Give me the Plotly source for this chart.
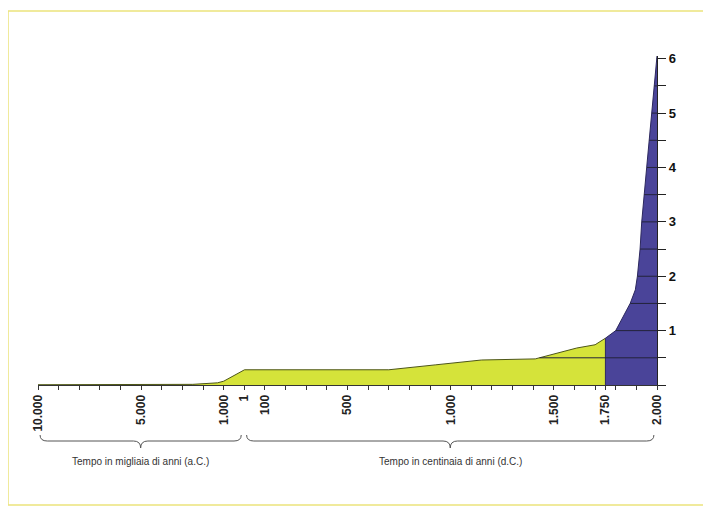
"""World population growth, 10.000 a.C. - 2.000 d.C. (miliardi di persone)."""

import numpy as np
import plotly.graph_objects as go

# Years (negative = a.C.) and population in billions
yellow_years = [-10000, -8000, -6000, -4000, -2500, -1300, -1000, 1,
                700, 925, 1000, 1100, 1150, 1410, 1514, 1611, 1700, 1750]
yellow_pop = [0.005, 0.005, 0.006, 0.008, 0.012, 0.04, 0.07, 0.28,
              0.28, 0.37, 0.40, 0.44, 0.46, 0.48, 0.58, 0.68, 0.74, 0.86]

blue_years = [1750, 1800, 1870, 1895, 1905, 1918, 1926, 1950, 1975, 2000]
blue_pop = [0.86, 1.0, 1.5, 1.75, 2.0, 2.5, 3.0, 4.0, 5.0, 6.05]

tick_years = [-10000, -5000, -1000, 1, 100, 500, 1000, 1500, 1750, 2000]
tick_labels = ["10.000", "5.000", "1.000", "1", "100", "500",
               "1.000", "1.500", "1.750", "2.000"]

y_ticks = [1, 2, 3, 4, 5, 6]
grid_levels = [0.5, 1, 1.5, 2, 2.5, 3, 3.5, 4, 4.5, 5, 5.5, 6]

brace_spans = [(-10000, 0), (1, 2000)]
brace_texts = ["Tempo in migliaia di anni (a.C.)",
               "Tempo in centinaia di anni (d.C.)"]

YELLOW = "#d5e33a"
BLUE = "#4a4499"
FONT = "Liberation Sans, Arial, sans-serif"

# page geometry (px); the page body adds an 8px margin around the figure
OFF = 8
Y_TOP = 6.05
W, H = 711 - OFF, 514 - OFF
ML = 38 - OFF
MR = W - (657 - OFF)
MB = H - (385 - OFF)
MT = round(385 - Y_TOP * 54.3) - OFF
PW, PH = W - ML - MR, H - MT - MB


def pos(year):
    """Broken time scale: thousands of years BC, hundreds of years AD."""
    if year <= 0:
        return (year + 10000) / 1000
    return 10 + year / 100


def pos_list(years):
    return [pos(y) for y in years]


def py(page_px):
    """Page pixel row -> paper y."""
    return (H - MB - (page_px - OFF)) / PH


def px_x(page_px):
    """Page pixel column -> paper x."""
    return (page_px - OFF - ML) / PW


def brace_path(x0, x1, y_end, y_flat, y_tip, d=0.35):
    xm = (x0 + x1) / 2
    return (
        f"M {x0},{y_end} Q {x0},{y_flat} {x0 + d},{y_flat} "
        f"L {xm - d},{y_flat} Q {xm},{y_flat} {xm},{y_tip} "
        f"Q {xm},{y_flat} {xm + d},{y_flat} "
        f"L {x1 - d},{y_flat} Q {x1},{y_flat} {x1},{y_end}"
    )


fig = go.Figure()

fig.add_trace(go.Scatter(
    x=pos_list(yellow_years), y=yellow_pop, mode="lines",
    fill="tozeroy", fillcolor=YELLOW,
    line=dict(color="#4d5618", width=1), hoverinfo="skip",
))
fig.add_trace(go.Scatter(
    x=pos_list([blue_years[0]] + blue_years), y=[0] + blue_pop, mode="lines",
    fill="tozeroy", fillcolor=BLUE,
    line=dict(color="#2c285e", width=1), hoverinfo="skip",
))

# horizontal rules only inside the filled area: from the curve to the axis
curve_years = [y for y in yellow_years if y >= 1410] + blue_years[1:]
curve_pop = yellow_pop[yellow_years.index(1410):] + blue_pop[1:]
curve_pos = pos_list(curve_years)
gx, gy = [], []
for lev in grid_levels:
    x_cross = float(np.interp(lev, curve_pop, curve_pos))
    gx += [x_cross, pos(2000), None]
    gy += [lev, lev, None]
fig.add_trace(go.Scatter(
    x=gx, y=gy, mode="lines",
    line=dict(color="#23233a", width=1), hoverinfo="skip",
))

shapes = [
    dict(type="rect", xref="paper", yref="paper",
         x0=px_x(8), x1=px_x(710), y0=py(505), y1=py(11),
         line=dict(color="#ece47c", width=1.5), layer="below"),
]
annotations = []
for (a, b), txt in zip(brace_spans, brace_texts):
    x0, x1 = pos(a) + 0.1, pos(b) - 0.15
    shapes.append(dict(
        type="path", xref="x", yref="paper",
        path=brace_path(x0, x1, py(435), py(441), py(448)),
        line=dict(color="#555555", width=1),
    ))
    annotations.append(dict(
        x=(x0 + x1) / 2, y=py(461), xref="x", yref="paper",
        xanchor="center", yanchor="middle",
        text=txt, showarrow=False,
        font=dict(family=FONT, size=10, color="#333333"),
    ))

fig.update_layout(
    width=W, height=H,
    margin=dict(l=ML, r=MR, t=MT, b=MB),
    paper_bgcolor="white", plot_bgcolor="white",
    showlegend=False,
    shapes=shapes, annotations=annotations,
    xaxis=dict(
        range=[0, 30], tickmode="array",
        tickvals=pos_list(tick_years), ticktext=tick_labels,
        tickangle=-90, ticks="outside", ticklen=4, tickcolor="#333333",
        minor=dict(tick0=0, dtick=1, ticks="outside", ticklen=4,
                   tickcolor="#333333"),
        showline=True, linecolor="#333333", linewidth=1.2,
        showgrid=False, zeroline=False,
        tickfont=dict(family=FONT, size=12, color="#222222", weight="bold"),
    ),
    yaxis=dict(
        range=[0, Y_TOP], side="right", tickmode="array", tickvals=y_ticks,
        ticks="outside", ticklen=8, tickcolor="#222222",
        minor=dict(tick0=0, dtick=0.5, ticks="outside", ticklen=8,
                   tickcolor="#222222"),
        showline=True, linecolor="#222222", linewidth=1.2,
        showgrid=False, zeroline=False,
        tickfont=dict(family=FONT, size=13, color="#111111", weight="bold"),
    ),
)

fig.write_html("out.html")
